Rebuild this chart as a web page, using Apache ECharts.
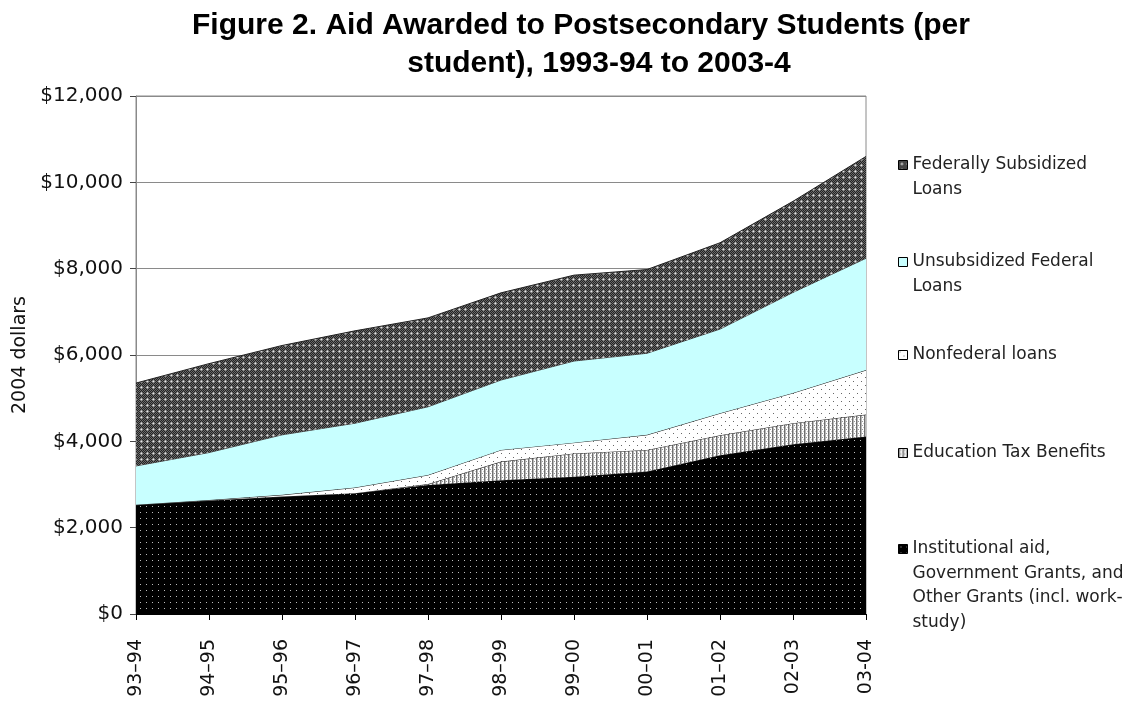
<!DOCTYPE html>
<html>
<head>
<meta charset="utf-8">
<script src="https://cdn.jsdelivr.net/npm/echarts@6/dist/echarts.min.js"></script>
<style>
  html, body { margin: 0; padding: 0; background: #fff; }
  #chart { width: 1131px; height: 707px; }
</style>
</head>
<body>
<div id="chart"></div>
<script>
// ---- data (2004 dollars per student) ----
const categories = ['93–94', '94–95', '95–96', '96–97', '97–98', '98–99', '99–00', '00–01', '01–02', '02-03', '03-04'];
const institutionalAid = [2530, 2630, 2720, 2800, 2990, 3100, 3180, 3300, 3680, 3930, 4110];
const educationTaxBenefits = [0, 0, 0, 0, 20, 430, 540, 500, 460, 490, 510];
const nonfederalLoans = [0, 10, 40, 130, 210, 270, 250, 350, 510, 700, 1030];
const unsubsidizedFederalLoans = [900, 1100, 1390, 1490, 1580, 1620, 1890, 1890, 1950, 2330, 2590];
const federallySubsidizedLoans = [1920, 2060, 2070, 2140, 2060, 2020, 1990, 1940, 2000, 2110, 2360];
const yAxisMin = 0;
const yAxisMax = 12000;
const yAxisStep = 2000;
const seriesNames = [
  'Institutional aid, Government Grants, and Other Grants (incl. work-study)',
  'Education Tax Benefits',
  'Nonfederal loans',
  'Unsubsidized Federal Loans',
  'Federally Subsidized Loans'
];
const legendLines = {
  'Federally Subsidized Loans': ['Federally Subsidized', 'Loans'],
  'Unsubsidized Federal Loans': ['Unsubsidized Federal', 'Loans'],
  'Nonfederal loans': ['Nonfederal loans'],
  'Education Tax Benefits': ['Education Tax Benefits'],
  'Institutional aid, Government Grants, and Other Grants (incl. work-study)':
    ['Institutional aid,', 'Government Grants, and', 'Other Grants (incl. work-', 'study)']
};
const titleLine1 = 'Figure 2. Aid Awarded to Postsecondary Students (per';
const titleLine2 = 'student), 1993-94 to 2003-4';
const yAxisTitle = '2004 dollars';

// ---- fill patterns ----
function makePattern(w, h, draw) {
  const c = document.createElement('canvas');
  c.width = w; c.height = h;
  const ctx = c.getContext('2d');
  draw(ctx, w, h);
  return { image: c, repeat: 'repeat' };
}
function px(ctx, x, y, col) { ctx.fillStyle = col; ctx.fillRect(x, y, 1, 1); }

const patInstitutional = makePattern(6, 6, (ctx, w, h) => {
  ctx.fillStyle = '#000'; ctx.fillRect(0, 0, w, h);
  px(ctx, 2, 2, '#bdbdbd');
});
const patTax = makePattern(4, 4, (ctx, w, h) => {
  ctx.fillStyle = '#fff'; ctx.fillRect(0, 0, w, h);
  for (let y = 0; y < h; y++) { px(ctx, 0, y, '#707070'); px(ctx, 1, y, '#b8b8b8'); }
  px(ctx, 2, 1, '#999'); px(ctx, 3, 3, '#ccc');
});
const patNonfed = makePattern(8, 8, (ctx, w, h) => {
  ctx.fillStyle = '#fff'; ctx.fillRect(0, 0, w, h);
  px(ctx, 1, 1, '#666'); px(ctx, 5, 5, '#666');
});
const colUnsub = '#c8ffff';
const patFedSub = makePattern(6, 6, (ctx, w, h) => {
  ctx.fillStyle = '#222'; ctx.fillRect(0, 0, w, h);
  for (let y = 0; y < h; y++) for (let x = 0; x < w; x++) if ((x + y) % 2 === 0) px(ctx, x, y, '#6a6a6a');
  px(ctx, 3, 3, '#e8e8e8'); px(ctx, 2, 3, '#b0b0b0'); px(ctx, 3, 2, '#b0b0b0');
  px(ctx, 4, 3, '#909090'); px(ctx, 3, 4, '#909090');
});
const fills = [patInstitutional, patTax, patNonfed, colUnsub, patFedSub];
const baseColors = ['#000000', '#999999', '#ffffff', colUnsub, '#444444'];
const seriesValues = [institutionalAid, educationTaxBenefits, nonfederalLoans, unsubsidizedFederalLoans, federallySubsidizedLoans];

const FONT = 'DejaVu Sans';
const chart = echarts.init(document.getElementById('chart'), null, { renderer: 'canvas' });

// legend: one component per entry; blank leading lines keep the first text line level with the icon
const legendIconCenters = {
  'Federally Subsidized Loans': 165,
  'Unsubsidized Federal Loans': 262,
  'Nonfederal loans': 355,
  'Education Tax Benefits': 453,
  'Institutional aid, Government Grants, and Other Grants (incl. work-study)': 549
};
const LH = 24.5;
const legends = seriesNames.slice().reverse().map((name) => {
  const n = legendLines[name].length;
  const idx = seriesNames.indexOf(name);
  return {
    show: true,
    orient: 'vertical',
    left: 898,
    top: legendIconCenters[name] - (2 * n - 1) * LH / 2,
    padding: 0,
    itemWidth: 9,
    itemHeight: 9,
    selectedMode: false,
    data: [{ name: name, icon: 'rect', itemStyle: { color: fills[idx], borderColor: '#000', borderWidth: 1 } }],
    formatter: (nm) => {
      const lines = legendLines[nm];
      return '\n'.repeat(lines.length - 1) + lines.join('\n');
    },
    textStyle: { fontFamily: FONT, fontSize: 17, color: '#222', lineHeight: LH }
  };
});

const option = {
  animation: false,
  backgroundColor: '#fff',
  textStyle: { fontFamily: FONT },
  title: [
    { text: titleLine1, left: 576, top: 6, textAlign: 'center',
      textStyle: { fontFamily: 'Liberation Sans', fontWeight: 'bold', fontSize: 30, color: '#000' } },
    { text: titleLine2, left: 594, top: 44, textAlign: 'center',
      textStyle: { fontFamily: 'Liberation Sans', fontWeight: 'bold', fontSize: 30, color: '#000' } }
  ],
  legend: legends,
  grid: {
    left: 136, right: 265, top: 96, bottom: 93,
    show: true, borderColor: '#8a8a8a', borderWidth: 1, backgroundColor: '#fff',
    containLabel: false, outerBoundsMode: 'none'
  },
  xAxis: {
    type: 'category',
    data: categories,
    boundaryGap: false,
    axisLine: { show: true, lineStyle: { color: '#000', width: 1 } },
    axisTick: { show: true, length: 6, lineStyle: { color: '#000' } },
    axisLabel: { rotate: 90, margin: 25, fontFamily: FONT, fontSize: 19, color: '#111', interval: 0 },
    splitLine: { show: false }
  },
  yAxis: {
    type: 'value',
    min: yAxisMin, max: yAxisMax, interval: yAxisStep,
    name: yAxisTitle,
    nameLocation: 'middle',
    nameRotate: 90,
    nameGap: 100,
    nameTextStyle: { fontFamily: FONT, fontSize: 19, color: '#111' },
    axisLine: { show: true, lineStyle: { color: '#8a8a8a', width: 1 } },
    axisTick: { show: true, length: 6, lineStyle: { color: '#444' } },
    axisLabel: {
      margin: 13, fontFamily: FONT, fontSize: 20, color: '#111',
      formatter: (v) => '$' + v.toLocaleString('en-US')
    },
    splitLine: { show: true, lineStyle: { color: '#8a8a8a', width: 1 } }
  },
  series: seriesValues.map((vals, i) => ({
    name: seriesNames[i],
    type: 'line',
    stack: 'aid',
    data: vals,
    symbol: 'none',
    showSymbol: false,
    smooth: false,
    color: baseColors[i],
    lineStyle: { width: 1, color: i === 3 ? '#4a4a4a' : '#222' },
    areaStyle: { color: fills[i], opacity: 1 },
    emphasis: { disabled: true },
    silent: true,
    z: 2 + i
  }))
};
chart.setOption(option);
</script>
</body>
</html>
